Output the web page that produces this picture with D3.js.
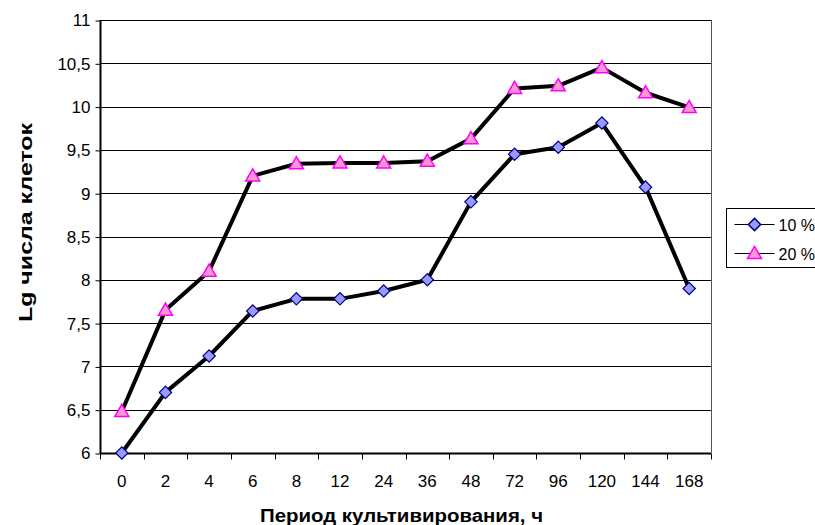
<!DOCTYPE html>
<html>
<head>
<meta charset="utf-8">
<script src="https://cdn.jsdelivr.net/npm/d3@7"></script>
<style>
  body { margin: 0; background: #fff; }
  text { font-family: "Liberation Sans", Arial, sans-serif; }
</style>
</head>
<body>
<script>
var w = 815;
var h = 525;

// data
const categories = ["0", "2", "4", "6", "8", "12", "24", "36", "48", "72", "96", "120", "144", "168"];
const series10 = [6.0, 6.7, 7.12, 7.64, 7.78, 7.78, 7.87, 8.0, 8.9, 9.45, 9.53, 9.81, 9.07, 7.9];
const series20 = [6.48, 7.65, 8.1, 9.2, 9.34, 9.35, 9.35, 9.37, 9.63, 10.21, 10.24, 10.45, 10.16, 9.99];
const yTicks = [6, 6.5, 7, 7.5, 8, 8.5, 9, 9.5, 10, 10.5, 11];
const seriesNames = ["10 %", "20 %"];

const plotL = 100, plotR = 711, plotT = 20, plotB = 453;

const fmt = d => String(d).replace(".", ",");

var svg = d3.select("body").append("svg")
    .attr("width", w)
    .attr("height", h);

var xScale = d3.scaleBand()
    .domain(categories)
    .range([plotL, plotR]);

var yScale = d3.scaleLinear()
    .domain([6, 11])
    .range([plotB, plotT]);

// gridlines
svg.append("g")
    .selectAll("line")
    .data(yTicks.slice(1))
    .join("line")
    .attr("x1", plotL).attr("x2", plotR)
    .attr("y1", d => Math.round(yScale(d)) + 0.5)
    .attr("y2", d => Math.round(yScale(d)) + 0.5)
    .attr("stroke", "#000")
    .attr("stroke-width", 1);

// right border of plot area
svg.append("line")
    .attr("x1", plotR + 0.5).attr("x2", plotR + 0.5)
    .attr("y1", plotT).attr("y2", plotB)
    .attr("stroke", "#555");

// axes
var yAxis = d3.axisLeft(yScale)
    .tickValues(yTicks)
    .tickSize(5)
    .tickFormat(fmt);

var gy = svg.append("g")
    .attr("transform", `translate(${plotL + 0.5}, 0.5)`)
    .call(yAxis);
gy.select(".domain").attr("stroke", "#000").attr("stroke-width", 2).attr("d", `M0,${plotT - 0.5}V${plotB}`);
gy.selectAll(".tick text").attr("font-size", 17).attr("fill", "#000").attr("x", -10);

// x axis: ticks between categories
var gx = svg.append("g")
    .attr("transform", `translate(0, ${plotB + 0.5})`);
gx.append("line")
    .attr("x1", plotL).attr("x2", plotR)
    .attr("stroke", "#000").attr("stroke-width", 2);
var bounds = categories.map(c => xScale(c)).concat([plotR]);
gx.selectAll("line.tk")
    .data(bounds)
    .join("line")
    .attr("class", "tk")
    .attr("x1", d => Math.round(d) + 0.5).attr("x2", d => Math.round(d) + 0.5)
    .attr("y1", 0).attr("y2", 6)
    .attr("stroke", "#000");
gx.selectAll("text")
    .data(categories)
    .join("text")
    .attr("x", d => xScale(d) + xScale.bandwidth() / 2)
    .attr("y", 33)
    .attr("text-anchor", "middle")
    .attr("font-size", 17)
    .text(d => d);

// lines
var line = d3.line()
    .x((d, i) => xScale(categories[i]) + xScale.bandwidth() / 2)
    .y(d => yScale(d));

[series20, series10].forEach(s => {
    svg.append("path")
        .datum(s)
        .attr("d", line)
        .attr("fill", "none")
        .attr("stroke", "#000")
        .attr("stroke-width", 4)
        .attr("stroke-linejoin", "round");
});

const diamond = d3.symbol().type(d3.symbolSquare).size(76);
const triangle = d3.symbol().type(d3.symbolTriangle).size(85);

// markers
svg.append("g")
    .selectAll("path")
    .data(series10)
    .join("path")
    .attr("d", diamond)
    .attr("transform", (d, i) => `translate(${xScale(categories[i]) + xScale.bandwidth() / 2},${yScale(d)}) rotate(45)`)
    .attr("fill", "#9999ff")
    .attr("stroke", "#000080")
    .attr("stroke-width", 1.2);

svg.append("g")
    .selectAll("path")
    .data(series20)
    .join("path")
    .attr("d", triangle)
    .attr("transform", (d, i) => `translate(${xScale(categories[i]) + xScale.bandwidth() / 2},${yScale(d) + 1})`)
    .attr("fill", "#ff99cc")
    .attr("stroke", "#ff00ff")
    .attr("stroke-width", 1.5);

// axis titles
svg.append("text")
    .attr("x", 260).attr("y", 522)
    .attr("font-size", 18)
    .attr("font-weight", "bold")
    .attr("textLength", 283)
    .attr("lengthAdjust", "spacingAndGlyphs")
    .text("Период культивирования, ч");

svg.append("text")
    .attr("transform", "translate(32, 322) rotate(-90)")
    .attr("font-size", 18)
    .attr("font-weight", "bold")
    .attr("textLength", 199)
    .attr("lengthAdjust", "spacingAndGlyphs")
    .text("Lg числа клеток");

// legend
var lg = svg.append("g").attr("transform", "translate(726.5, 208.5)");
lg.append("rect")
    .attr("width", 95).attr("height", 59)
    .attr("fill", "#fff")
    .attr("stroke", "#000");
var items = lg.selectAll("g.item")
    .data(seriesNames)
    .join("g")
    .attr("class", "item")
    .attr("transform", (d, i) => `translate(0, ${16 + i * 29})`);
items.append("line")
    .attr("x1", 8).attr("x2", 48)
    .attr("stroke", "#000");
items.append("path")
    .attr("d", (d, i) => i === 0 ? diamond() : triangle())
    .attr("transform", (d, i) => i === 0 ? "translate(28,0) rotate(45)" : "translate(28,1)")
    .attr("fill", (d, i) => i === 0 ? "#9999ff" : "#ff99cc")
    .attr("stroke", (d, i) => i === 0 ? "#000080" : "#ff00ff")
    .attr("stroke-width", 1.5);
items.append("text")
    .attr("x", 52).attr("y", 6)
    .attr("font-size", 16)
    .text(d => d);
</script>
</body>
</html>
